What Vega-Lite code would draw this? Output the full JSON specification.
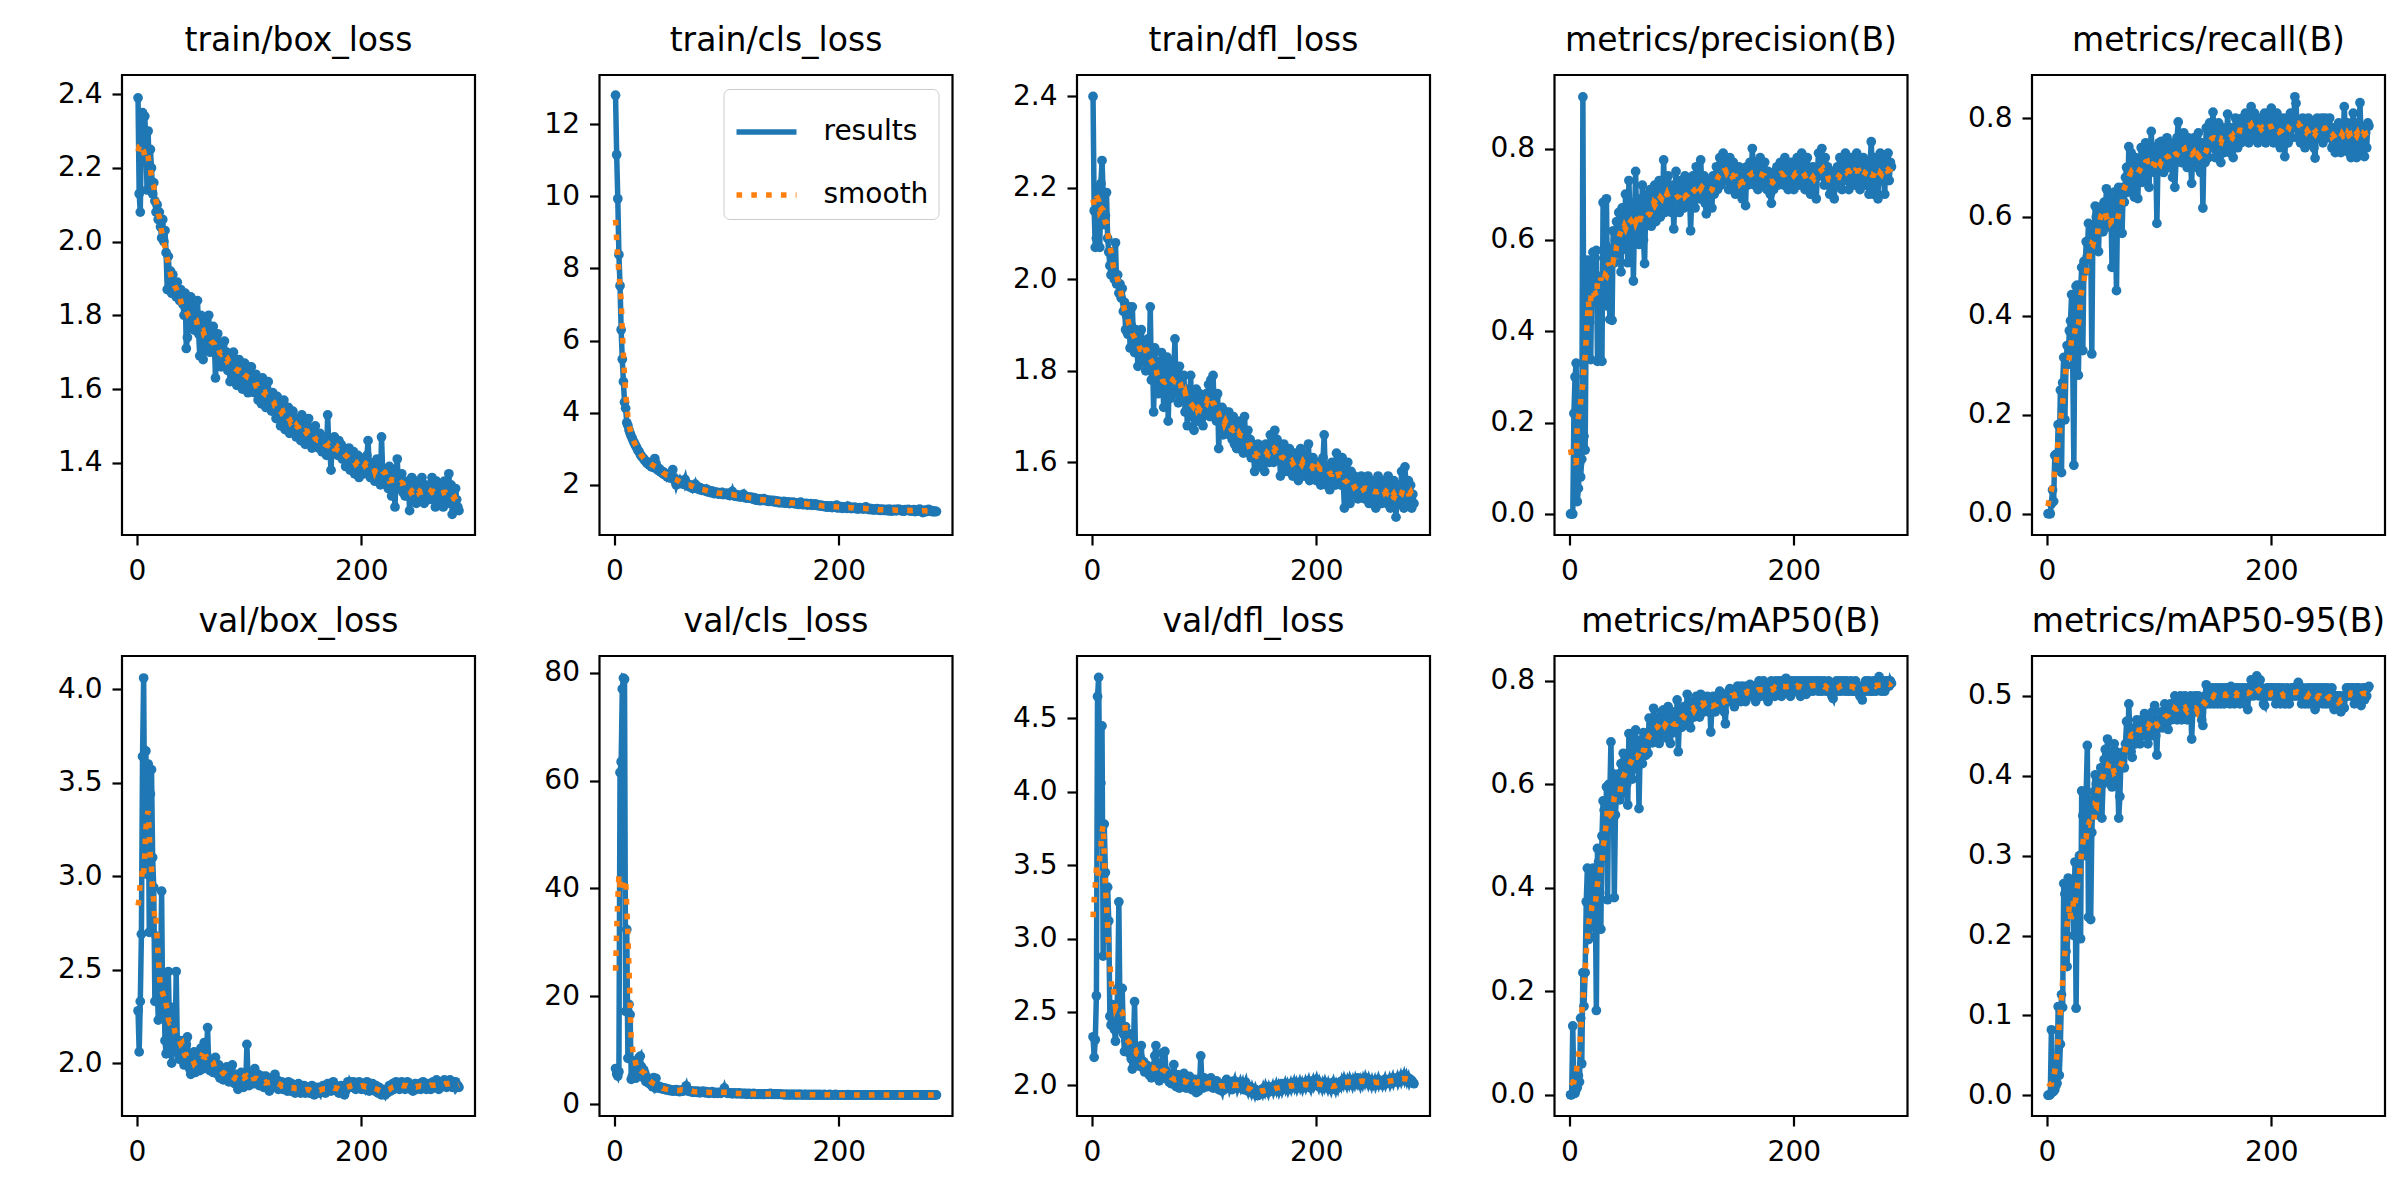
{
  "$schema": "https://vega.github.io/schema/vega-lite/v6.json",
  "background": "white",
  "padding": {"left": 50, "top": 23, "right": 0, "bottom": 0},
  "data": {
    "values": [
      {"ep":1,"tb":2.39,"tc":12.8,"td":2.40,"p":0,"r":0,"vb":2.28,"vc":6.6,"vd":2.33,"m50":0,"m95":0},
      {"ep":2,"tb":2.13,"tc":11.15,"td":2.15,"p":0,"r":0,"vb":2.06,"vc":5.6,"vd":2.19,"m50":0,"m95":0},
      {"ep":3,"tb":2.08,"tc":9.93,"td":2.07,"p":0,"r":0,"vb":2.33,"vc":5.2,"vd":2.31,"m50":0.133,"m95":0.001},
      {"ep":4,"tb":2.30,"tc":8.38,"td":2.09,"p":0.22,"r":0.02,"vb":2.69,"vc":6.0,"vd":2.61,"m50":0.005,"m95":0.082},
      {"ep":5,"tb":2.35,"tc":7.52,"td":2.20,"p":0.30,"r":0.048,"vb":3.64,"vc":61.5,"vd":4.65,"m50":0.003,"m95":0.004},
      {"ep":6,"tb":2.22,"tc":6.30,"td":2.14,"p":0.33,"r":0.025,"vb":4.06,"vc":63.5,"vd":4.78,"m50":0.010,"m95":0.005},
      {"ep":7,"tb":2.34,"tc":5.48,"td":2.07,"p":0.027,"r":0.118,"vb":3.10,"vc":77.0,"vd":3.97,"m50":0.014,"m95":0.007},
      {"ep":8,"tb":2.27,"tc":4.86,"td":2.21,"p":0.056,"r":0.12,"vb":3.67,"vc":79.0,"vd":4.06,"m50":0.037,"m95":0.012},
      {"ep":9,"tb":2.14,"tc":4.29,"td":2.26,"p":0.11,"r":0.095,"vb":3.01,"vc":78.8,"vd":4.45,"m50":0.025,"m95":0.015},
      {"ep":10,"tb":2.30,"tc":4.12,"td":2.19,"p":0.081,"r":0.18,"vb":3.60,"vc":17.2,"vd":2.88,"m50":0.148,"m95":0.111},
      {"ep":11,"tb":2.18,"tc":3.72,"td":2.12,"p":0.12,"r":0.122,"vb":2.70,"vc":32.4,"vd":3.78,"m50":0.060,"m95":0.025},
      {"ep":12,"tb":2.25,"tc":3.65,"td":2.14,"p":0.913,"r":0.25,"vb":3.44,"vc":8.5,"vd":3.45,"m50":0.236,"m95":0.064},
      {"ep":13,"tb":2.20,"tc":3.52,"td":2.19,"p":0.17,"r":0.083,"vb":3.57,"vc":18.5,"vd":3.00,"m50":0.171,"m95":0.126},
      {"ep":14,"tb":2.13,"tc":3.43,"td":2.09,"p":0.14,"r":0.265,"vb":3.10,"vc":16.6,"vd":3.35,"m50":0.236,"m95":0.11},
      {"ep":15,"tb":2.16,"tc":3.35,"td":2.06,"p":0.45,"r":0.316,"vb":2.94,"vc":4.6,"vd":3.12,"m50":0.373,"m95":0.265},
      {"ep":16,"tb":2.11,"tc":3.28,"td":2.03,"p":0.556,"r":0.19,"vb":2.33,"vc":5.2,"vd":2.47,"m50":0.438,"m95":0.252},
      {"ep":17,"tb":2.08,"tc":3.20,"td":2.01,"p":0.50,"r":0.30,"vb":2.68,"vc":8.0,"vd":2.41,"m50":0.30,"m95":0.18},
      {"ep":18,"tb":2.10,"tc":3.14,"td":2.06,"p":0.42,"r":0.34,"vb":2.45,"vc":7.2,"vd":2.55,"m50":0.305,"m95":0.161},
      {"ep":19,"tb":2.06,"tc":3.08,"td":2.02,"p":0.338,"r":0.32,"vb":2.23,"vc":4.8,"vd":2.45,"m50":0.335,"m95":0.272},
      {"ep":20,"tb":2.08,"tc":3.02,"td":2.00,"p":0.54,"r":0.37,"vb":2.50,"vc":6.0,"vd":2.38,"m50":0.42,"m95":0.24},
      {"ep":21,"tb":2.04,"tc":2.95,"td":2.08,"p":0.573,"r":0.39,"vb":2.38,"vc":5.5,"vd":2.30,"m50":0.438,"m95":0.26},
      {"ep":22,"tb":2.01,"tc":2.92,"td":1.99,"p":0.52,"r":0.443,"vb":2.92,"vc":8.6,"vd":2.50,"m50":0.37,"m95":0.228},
      {"ep":23,"tb":2.06,"tc":2.85,"td":2.01,"p":0.56,"r":0.30,"vb":2.25,"vc":8.9,"vd":2.66,"m50":0.40,"m95":0.27},
      {"ep":24,"tb":2.00,"tc":2.80,"td":1.97,"p":0.577,"r":0.098,"vb":2.45,"vc":7.0,"vd":3.25,"m50":0.163,"m95":0.20},
      {"ep":25,"tb":2.03,"tc":2.76,"td":1.99,"p":0.334,"r":0.42,"vb":2.12,"vc":5.0,"vd":2.48,"m50":0.476,"m95":0.292},
      {"ep":26,"tb":1.97,"tc":2.73,"td":1.96,"p":0.48,"r":0.46,"vb":2.05,"vc":6.4,"vd":2.38,"m50":0.45,"m95":0.109},
      {"ep":27,"tb":1.87,"tc":2.67,"td":1.98,"p":0.45,"r":0.462,"vb":2.28,"vc":5.8,"vd":2.66,"m50":0.39,"m95":0.25},
      {"ep":28,"tb":1.96,"tc":2.66,"td":1.93,"p":0.52,"r":0.28,"vb":2.49,"vc":4.2,"vd":2.35,"m50":0.32,"m95":0.28},
      {"ep":29,"tb":1.90,"tc":2.60,"td":1.95,"p":0.334,"r":0.40,"vb":2.20,"vc":5.0,"vd":2.23,"m50":0.50,"m95":0.30},
      {"ep":30,"tb":1.92,"tc":2.62,"td":1.89,"p":0.682,"r":0.45,"vb":2.30,"vc":4.0,"vd":2.40,"m50":0.568,"m95":0.196},
      {"ep":31,"tb":1.86,"tc":2.55,"td":1.92,"p":0.47,"r":0.498,"vb":2.00,"vc":3.8,"vd":2.30,"m50":0.55,"m95":0.381},
      {"ep":32,"tb":1.91,"tc":2.58,"td":1.88,"p":0.59,"r":0.33,"vb":2.15,"vc":4.5,"vd":2.28,"m50":0.46,"m95":0.35},
      {"ep":33,"tb":1.88,"tc":2.50,"td":1.94,"p":0.69,"r":0.51,"vb":2.28,"vc":3.5,"vd":2.22,"m50":0.595,"m95":0.371},
      {"ep":34,"tb":1.87,"tc":2.52,"td":1.85,"p":0.455,"r":0.49,"vb":2.08,"vc":3.2,"vd":2.35,"m50":0.377,"m95":0.30},
      {"ep":35,"tb":1.85,"tc":2.48,"td":1.90,"p":0.56,"r":0.55,"vb":2.49,"vc":4.9,"vd":2.18,"m50":0.60,"m95":0.38},
      {"ep":36,"tb":1.89,"tc":2.73,"td":1.94,"p":0.426,"r":0.52,"vb":2.10,"vc":3.4,"vd":2.11,"m50":0.58,"m95":0.438},
      {"ep":37,"tb":1.86,"tc":2.60,"td":1.87,"p":0.58,"r":0.587,"vb":2.05,"vc":4.8,"vd":2.25,"m50":0.682,"m95":0.223},
      {"ep":38,"tb":1.84,"tc":2.44,"td":1.84,"p":0.424,"r":0.53,"vb":2.02,"vc":3.0,"vd":2.57,"m50":0.56,"m95":0.36},
      {"ep":39,"tb":1.87,"tc":2.40,"td":1.89,"p":0.62,"r":0.56,"vb":2.12,"vc":3.2,"vd":2.15,"m50":0.62,"m95":0.22},
      {"ep":40,"tb":1.85,"tc":2.45,"td":1.86,"p":0.55,"r":0.323,"vb":2.04,"vc":3.3,"vd":2.20,"m50":0.381,"m95":0.329},
      {"ep":41,"tb":1.83,"tc":2.36,"td":1.81,"p":0.60,"r":0.58,"vb":2.08,"vc":2.9,"vd":2.17,"m50":0.541,"m95":0.37},
      {"ep":42,"tb":1.80,"tc":2.38,"td":1.87,"p":0.64,"r":0.55,"vb":1.99,"vc":3.1,"vd":2.13,"m50":0.58,"m95":0.38},
      {"ep":43,"tb":1.86,"tc":2.31,"td":1.83,"p":0.57,"r":0.622,"vb":2.05,"vc":2.8,"vd":2.19,"m50":0.60,"m95":0.401},
      {"ep":44,"tb":1.71,"tc":2.35,"td":1.89,"p":0.66,"r":0.60,"vb":2.10,"vc":3.0,"vd":2.27,"m50":0.62,"m95":0.39},
      {"ep":45,"tb":1.74,"tc":2.28,"td":1.85,"p":0.61,"r":0.58,"vb":2.14,"vc":2.7,"vd":2.12,"m50":0.57,"m95":0.351},
      {"ep":46,"tb":1.82,"tc":2.30,"td":1.82,"p":0.53,"r":0.53,"vb":2.01,"vc":2.9,"vd":2.16,"m50":0.64,"m95":0.40},
      {"ep":47,"tb":1.79,"tc":2.22,"td":1.86,"p":0.67,"r":0.62,"vb":1.97,"vc":2.6,"vd":2.09,"m50":0.61,"m95":0.38},
      {"ep":48,"tb":1.85,"tc":2.27,"td":1.80,"p":0.62,"r":0.59,"vb":1.94,"vc":2.8,"vd":2.14,"m50":0.66,"m95":0.41},
      {"ep":49,"tb":1.78,"tc":2.20,"td":1.84,"p":0.58,"r":0.606,"vb":2.04,"vc":2.5,"vd":2.10,"m50":0.583,"m95":0.347},
      {"ep":50,"tb":1.83,"tc":2.24,"td":1.87,"p":0.70,"r":0.57,"vb":1.99,"vc":2.7,"vd":2.13,"m50":0.63,"m95":0.39},
      {"ep":51,"tb":1.76,"tc":2.18,"td":1.81,"p":0.63,"r":0.63,"vb":2.06,"vc":2.6,"vd":2.07,"m50":0.60,"m95":0.42},
      {"ep":52,"tb":1.81,"tc":2.42,"td":1.94,"p":0.55,"r":0.60,"vb":1.95,"vc":2.4,"vd":2.11,"m50":0.56,"m95":0.433},
      {"ep":53,"tb":1.78,"tc":2.21,"td":1.78,"p":0.73,"r":0.657,"vb":2.02,"vc":2.6,"vd":2.05,"m50":0.698,"m95":0.40},
      {"ep":54,"tb":1.84,"tc":2.12,"td":1.83,"p":0.65,"r":0.61,"vb":1.98,"vc":2.5,"vd":2.09,"m50":0.64,"m95":0.446},
      {"ep":55,"tb":1.75,"tc":2.00,"td":1.71,"p":0.60,"r":0.58,"vb":2.05,"vc":2.7,"vd":2.13,"m50":0.67,"m95":0.41},
      {"ep":56,"tb":1.69,"tc":2.10,"td":1.85,"p":0.68,"r":0.64,"vb":1.96,"vc":2.4,"vd":2.20,"m50":0.61,"m95":0.43},
      {"ep":57,"tb":1.80,"tc":2.07,"td":1.79,"p":0.51,"r":0.62,"vb":2.08,"vc":2.6,"vd":2.27,"m50":0.69,"m95":0.39},
      {"ep":58,"tb":1.77,"tc":2.13,"td":1.82,"p":0.64,"r":0.498,"vb":2.01,"vc":2.3,"vd":2.06,"m50":0.65,"m95":0.386},
      {"ep":59,"tb":1.68,"tc":2.04,"td":1.75,"p":0.75,"r":0.60,"vb":1.97,"vc":2.5,"vd":2.12,"m50":0.705,"m95":0.42},
      {"ep":60,"tb":1.74,"tc":2.08,"td":1.80,"p":0.62,"r":0.65,"vb":2.11,"vc":2.6,"vd":2.03,"m50":0.63,"m95":0.44},
      {"ep":61,"tb":1.78,"tc":2.02,"td":1.77,"p":0.66,"r":0.58,"vb":2.00,"vc":2.4,"vd":2.15,"m50":0.68,"m95":0.41},
      {"ep":62,"tb":1.72,"tc":2.06,"td":1.84,"p":0.59,"r":0.451,"vb":2.05,"vc":2.7,"vd":2.08,"m50":0.553,"m95":0.43},
      {"ep":63,"tb":1.76,"tc":2.15,"td":1.78,"p":0.69,"r":0.63,"vb":2.19,"vc":2.9,"vd":2.22,"m50":0.66,"m95":0.40},
      {"ep":64,"tb":1.80,"tc":1.99,"td":1.72,"p":0.63,"r":0.66,"vb":1.98,"vc":3.4,"vd":2.05,"m50":0.686,"m95":0.347},
      {"ep":65,"tb":1.70,"tc":2.03,"td":1.81,"p":0.72,"r":0.61,"vb":1.96,"vc":2.6,"vd":2.23,"m50":0.64,"m95":0.374},
      {"ep":66,"tb":1.74,"tc":1.96,"td":1.76,"p":0.60,"r":0.64,"vb":2.02,"vc":2.4,"vd":2.10,"m50":0.70,"m95":0.42},
      {"ep":67,"tb":1.71,"tc":2.00,"td":1.83,"p":0.548,"r":0.567,"vb":1.99,"vc":2.5,"vd":2.04,"m50":0.67,"m95":0.426},
      {"ep":68,"tb":1.77,"tc":1.93,"td":1.69,"p":0.67,"r":0.66,"vb":1.95,"vc":2.3,"vd":2.08,"m50":0.656,"m95":0.43},
      {"ep":69,"tb":1.73,"tc":1.97,"td":1.79,"p":0.64,"r":0.63,"vb":2.01,"vc":2.4,"vd":2.02,"m50":0.69,"m95":0.41},
      {"ep":70,"tb":1.63,"tc":1.90,"td":1.74,"p":0.70,"r":0.68,"vb":2.03,"vc":2.2,"vd":2.06,"m50":0.66,"m95":0.44},
      {"ep":71,"tb":1.69,"tc":1.95,"td":1.82,"p":0.65,"r":0.70,"vb":1.97,"vc":2.4,"vd":2.01,"m50":0.728,"m95":0.468},
      {"ep":72,"tb":1.75,"tc":2.02,"td":1.77,"p":0.71,"r":0.65,"vb":1.94,"vc":2.3,"vd":2.04,"m50":0.69,"m95":0.44},
      {"ep":73,"tb":1.70,"tc":1.92,"td":1.80,"p":0.63,"r":0.742,"vb":1.99,"vc":2.2,"vd":2.14,"m50":0.71,"m95":0.49},
      {"ep":74,"tb":1.72,"tc":1.89,"td":1.87,"p":0.68,"r":0.69,"vb":1.92,"vc":2.4,"vd":2.05,"m50":0.68,"m95":0.45},
      {"ep":75,"tb":1.66,"tc":1.94,"td":1.75,"p":0.66,"r":0.73,"vb":1.97,"vc":2.3,"vd":1.99,"m50":0.747,"m95":0.43},
      {"ep":76,"tb":1.71,"tc":1.87,"td":1.79,"p":0.72,"r":0.66,"vb":1.95,"vc":2.1,"vd":2.03,"m50":0.70,"m95":0.423},
      {"ep":77,"tb":1.68,"tc":1.91,"td":1.73,"p":0.64,"r":0.70,"vb":1.91,"vc":2.3,"vd":2.07,"m50":0.72,"m95":0.45},
      {"ep":78,"tb":1.73,"tc":1.85,"td":1.81,"p":0.69,"r":0.64,"vb":1.96,"vc":2.2,"vd":1.98,"m50":0.69,"m95":0.46},
      {"ep":79,"tb":1.67,"tc":1.89,"td":1.76,"p":0.67,"r":0.72,"vb":1.93,"vc":2.4,"vd":2.02,"m50":0.73,"m95":0.44},
      {"ep":80,"tb":1.70,"tc":1.86,"td":1.78,"p":0.73,"r":0.68,"vb":1.98,"vc":2.2,"vd":2.05,"m50":0.679,"m95":0.47},
      {"ep":81,"tb":1.65,"tc":1.83,"td":1.74,"p":0.65,"r":0.637,"vb":1.94,"vc":2.1,"vd":2.00,"m50":0.71,"m95":0.45},
      {"ep":82,"tb":1.69,"tc":1.88,"td":1.79,"p":0.70,"r":0.71,"vb":1.90,"vc":2.3,"vd":2.08,"m50":0.74,"m95":0.46},
      {"ep":83,"tb":1.62,"tc":1.81,"td":1.71,"p":0.68,"r":0.69,"vb":1.95,"vc":2.2,"vd":2.03,"m50":0.70,"m95":0.44},
      {"ep":84,"tb":1.68,"tc":1.85,"td":1.76,"p":0.775,"r":0.74,"vb":1.92,"vc":2.0,"vd":1.98,"m50":0.744,"m95":0.47},
      {"ep":85,"tb":1.66,"tc":1.79,"td":1.68,"p":0.66,"r":0.67,"vb":1.99,"vc":2.2,"vd":2.04,"m50":0.72,"m95":0.45},
      {"ep":86,"tb":1.70,"tc":1.83,"td":1.75,"p":0.71,"r":0.72,"vb":1.93,"vc":2.1,"vd":2.01,"m50":0.69,"m95":0.46},
      {"ep":87,"tb":1.64,"tc":1.78,"td":1.72,"p":0.69,"r":0.70,"vb":1.89,"vc":2.3,"vd":2.06,"m50":0.73,"m95":0.478},
      {"ep":88,"tb":1.67,"tc":1.82,"td":1.79,"p":0.74,"r":0.75,"vb":1.94,"vc":2.1,"vd":2.00,"m50":0.75,"m95":0.45},
      {"ep":89,"tb":1.61,"tc":1.76,"td":1.70,"p":0.67,"r":0.68,"vb":1.91,"vc":2.0,"vd":1.97,"m50":0.71,"m95":0.47},
      {"ep":90,"tb":1.65,"tc":1.80,"td":1.74,"p":0.70,"r":0.71,"vb":1.86,"vc":2.2,"vd":2.02,"m50":0.679,"m95":0.44},
      {"ep":91,"tb":1.68,"tc":1.77,"td":1.67,"p":0.66,"r":0.66,"vb":1.93,"vc":2.1,"vd":1.99,"m50":0.72,"m95":0.46},
      {"ep":92,"tb":1.63,"tc":1.79,"td":1.73,"p":0.72,"r":0.73,"vb":1.88,"vc":2.0,"vd":2.04,"m50":0.74,"m95":0.47},
      {"ep":93,"tb":1.66,"tc":1.74,"td":1.76,"p":0.624,"r":0.773,"vb":1.95,"vc":2.2,"vd":1.95,"m50":0.70,"m95":0.45},
      {"ep":94,"tb":1.60,"tc":1.78,"td":1.69,"p":0.69,"r":0.70,"vb":1.91,"vc":2.1,"vd":2.00,"m50":0.73,"m95":0.48},
      {"ep":95,"tb":1.64,"tc":1.75,"td":1.72,"p":0.75,"r":0.74,"vb":1.87,"vc":2.0,"vd":1.96,"m50":0.71,"m95":0.46},
      {"ep":96,"tb":1.67,"tc":1.79,"td":1.75,"p":0.68,"r":0.69,"vb":1.93,"vc":2.2,"vd":2.02,"m50":0.763,"m95":0.488},
      {"ep":97,"tb":1.62,"tc":1.73,"td":1.70,"p":0.71,"r":0.72,"vb":1.89,"vc":2.4,"vd":2.20,"m50":0.663,"m95":0.45},
      {"ep":98,"tb":1.65,"tc":1.76,"td":1.73,"p":0.66,"r":0.587,"vb":2.10,"vc":3.0,"vd":2.03,"m50":0.72,"m95":0.426},
      {"ep":99,"tb":1.59,"tc":1.74,"td":1.68,"p":0.73,"r":0.71,"vb":1.92,"vc":2.3,"vd":1.98,"m50":0.74,"m95":0.47},
      {"ep":100,"tb":1.66,"tc":1.77,"td":1.74,"p":0.69,"r":0.75,"vb":1.88,"vc":2.1,"vd":2.05,"m50":0.71,"m95":0.46},
      {"ep":101,"tb":1.62,"tc":1.72,"td":1.71,"p":0.72,"r":0.70,"vb":1.95,"vc":2.0,"vd":2.01,"m50":0.73,"m95":0.47},
      {"ep":102,"tb":1.66,"tc":1.76,"td":1.75,"p":0.67,"r":0.753,"vb":1.91,"vc":2.1,"vd":2.04,"m50":0.75,"m95":0.48},
      {"ep":103,"tb":1.60,"tc":1.70,"td":1.72,"p":0.74,"r":0.72,"vb":1.94,"vc":2.0,"vd":1.99,"m50":0.72,"m95":0.46},
      {"ep":104,"tb":1.63,"tc":1.74,"td":1.77,"p":0.70,"r":0.69,"vb":1.89,"vc":2.1,"vd":2.03,"m50":0.74,"m95":0.47},
      {"ep":105,"tb":1.59,"tc":1.82,"td":1.70,"p":0.68,"r":0.74,"vb":1.97,"vc":1.9,"vd":2.00,"m50":0.774,"m95":0.49},
      {"ep":106,"tb":1.64,"tc":1.71,"td":1.78,"p":0.73,"r":0.71,"vb":1.92,"vc":2.0,"vd":2.05,"m50":0.73,"m95":0.47},
      {"ep":107,"tb":1.61,"tc":1.69,"td":1.73,"p":0.71,"r":0.76,"vb":1.90,"vc":2.1,"vd":2.01,"m50":0.75,"m95":0.48},
      {"ep":108,"tb":1.57,"tc":1.73,"td":1.79,"p":0.62,"r":0.73,"vb":1.94,"vc":2.0,"vd":1.98,"m50":0.709,"m95":0.458},
      {"ep":109,"tb":1.62,"tc":1.68,"td":1.71,"p":0.69,"r":0.70,"vb":1.88,"vc":1.9,"vd":2.02,"m50":0.74,"m95":0.48},
      {"ep":110,"tb":1.60,"tc":1.72,"td":1.74,"p":0.74,"r":0.75,"vb":1.92,"vc":2.0,"vd":1.99,"m50":0.76,"m95":0.49},
      {"ep":111,"tb":1.56,"tc":1.67,"td":1.69,"p":0.72,"r":0.72,"vb":1.89,"vc":2.1,"vd":2.03,"m50":0.73,"m95":0.47},
      {"ep":112,"tb":1.63,"tc":1.70,"td":1.75,"p":0.67,"r":0.68,"vb":1.93,"vc":1.9,"vd":2.00,"m50":0.75,"m95":0.48},
      {"ep":113,"tb":1.58,"tc":1.66,"td":1.63,"p":0.76,"r":0.74,"vb":1.87,"vc":2.0,"vd":1.97,"m50":0.77,"m95":0.49},
      {"ep":114,"tb":1.61,"tc":1.69,"td":1.71,"p":0.71,"r":0.66,"vb":1.91,"vc":1.9,"vd":2.01,"m50":0.74,"m95":0.50},
      {"ep":115,"tb":1.55,"tc":1.74,"td":1.68,"p":0.73,"r":0.71,"vb":1.93,"vc":2.0,"vd":1.98,"m50":0.76,"m95":0.48},
      {"ep":116,"tb":1.59,"tc":1.65,"td":1.72,"p":0.69,"r":0.76,"vb":1.88,"vc":1.9,"vd":1.96,"m50":0.73,"m95":0.47},
      {"ep":117,"tb":1.62,"tc":1.68,"td":1.66,"p":0.775,"r":0.792,"vb":1.90,"vc":2.0,"vd":2.00,"m50":0.774,"m95":0.49},
      {"ep":118,"tb":1.56,"tc":1.63,"td":1.70,"p":0.72,"r":0.73,"vb":1.85,"vc":1.8,"vd":1.97,"m50":0.75,"m95":0.48},
      {"ep":119,"tb":1.58,"tc":1.67,"td":1.67,"p":0.70,"r":0.75,"vb":1.89,"vc":1.9,"vd":2.01,"m50":0.77,"m95":0.50},
      {"ep":120,"tb":1.54,"tc":1.64,"td":1.71,"p":0.74,"r":0.71,"vb":1.92,"vc":2.0,"vd":2.04,"m50":0.74,"m95":0.47},
      {"ep":121,"tb":1.59,"tc":1.66,"td":1.68,"p":0.68,"r":0.74,"vb":1.87,"vc":1.9,"vd":1.99,"m50":0.76,"m95":0.49},
      {"ep":122,"tb":1.55,"tc":1.62,"td":1.71,"p":0.657,"r":0.77,"vb":1.90,"vc":1.8,"vd":2.02,"m50":0.75,"m95":0.48},
      {"ep":123,"tb":1.57,"tc":1.65,"td":1.66,"p":0.71,"r":0.72,"vb":1.94,"vc":1.9,"vd":1.98,"m50":0.77,"m95":0.50},
      {"ep":124,"tb":1.52,"tc":1.60,"td":1.69,"p":0.73,"r":0.75,"vb":1.88,"vc":2.0,"vd":2.00,"m50":0.74,"m95":0.48},
      {"ep":125,"tb":1.58,"tc":1.64,"td":1.65,"p":0.69,"r":0.70,"vb":1.91,"vc":1.9,"vd":1.97,"m50":0.76,"m95":0.47},
      {"ep":126,"tb":1.54,"tc":1.58,"td":1.70,"p":0.72,"r":0.76,"vb":1.86,"vc":1.8,"vd":2.01,"m50":0.701,"m95":0.49},
      {"ep":127,"tb":1.56,"tc":1.62,"td":1.64,"p":0.67,"r":0.73,"vb":1.89,"vc":1.9,"vd":2.03,"m50":0.75,"m95":0.48},
      {"ep":128,"tb":1.50,"tc":1.57,"td":1.67,"p":0.74,"r":0.71,"vb":1.87,"vc":1.8,"vd":1.99,"m50":0.77,"m95":0.50},
      {"ep":129,"tb":1.55,"tc":1.61,"td":1.63,"p":0.70,"r":0.668,"vb":1.90,"vc":1.9,"vd":2.02,"m50":0.76,"m95":0.446},
      {"ep":130,"tb":1.53,"tc":1.56,"td":1.68,"p":0.72,"r":0.74,"vb":1.86,"vc":1.8,"vd":1.98,"m50":0.74,"m95":0.48},
      {"ep":131,"tb":1.57,"tc":1.60,"td":1.66,"p":0.76,"r":0.76,"vb":1.89,"vc":1.9,"vd":2.00,"m50":0.77,"m95":0.49},
      {"ep":132,"tb":1.49,"tc":1.58,"td":1.69,"p":0.71,"r":0.72,"vb":1.86,"vc":1.8,"vd":2.02,"m50":0.75,"m95":0.50},
      {"ep":133,"tb":1.54,"tc":1.62,"td":1.64,"p":0.74,"r":0.75,"vb":1.88,"vc":1.9,"vd":1.99,"m50":0.76,"m95":0.48},
      {"ep":134,"tb":1.51,"tc":1.57,"td":1.67,"p":0.78,"r":0.70,"vb":1.85,"vc":1.8,"vd":2.01,"m50":0.78,"m95":0.49},
      {"ep":135,"tb":1.55,"tc":1.59,"td":1.62,"p":0.72,"r":0.77,"vb":1.90,"vc":1.9,"vd":1.97,"m50":0.75,"m95":0.50},
      {"ep":136,"tb":1.48,"tc":1.55,"td":1.70,"p":0.75,"r":0.73,"vb":1.87,"vc":1.9,"vd":2.00,"m50":0.77,"m95":0.48},
      {"ep":137,"tb":1.52,"tc":1.58,"td":1.65,"p":0.79,"r":0.69,"vb":1.85,"vc":1.8,"vd":2.02,"m50":0.76,"m95":0.49},
      {"ep":138,"tb":1.50,"tc":1.54,"td":1.63,"p":0.73,"r":0.75,"vb":1.89,"vc":1.9,"vd":1.98,"m50":0.74,"m95":0.47},
      {"ep":139,"tb":1.54,"tc":1.57,"td":1.67,"p":0.77,"r":0.618,"vb":1.86,"vc":2.0,"vd":1.96,"m50":0.717,"m95":0.463},
      {"ep":140,"tb":1.49,"tc":1.55,"td":1.62,"p":0.74,"r":0.74,"vb":1.88,"vc":1.8,"vd":1.99,"m50":0.77,"m95":0.49},
      {"ep":141,"tb":1.51,"tc":1.57,"td":1.65,"p":0.76,"r":0.71,"vb":1.84,"vc":1.9,"vd":1.97,"m50":0.76,"m95":0.50},
      {"ep":142,"tb":1.47,"tc":1.53,"td":1.61,"p":0.71,"r":0.78,"vb":1.87,"vc":1.8,"vd":1.95,"m50":0.78,"m95":0.514},
      {"ep":143,"tb":1.52,"tc":1.56,"td":1.64,"p":0.78,"r":0.75,"vb":1.85,"vc":1.8,"vd":1.98,"m50":0.785,"m95":0.49},
      {"ep":144,"tb":1.48,"tc":1.52,"td":1.62,"p":0.75,"r":0.72,"vb":1.89,"vc":1.9,"vd":1.96,"m50":0.76,"m95":0.50},
      {"ep":145,"tb":1.50,"tc":1.55,"td":1.58,"p":0.72,"r":0.79,"vb":1.86,"vc":1.8,"vd":1.94,"m50":0.78,"m95":0.51},
      {"ep":146,"tb":1.46,"tc":1.51,"td":1.63,"p":0.77,"r":0.74,"vb":1.84,"vc":1.8,"vd":1.97,"m50":0.77,"m95":0.49},
      {"ep":147,"tb":1.53,"tc":1.54,"td":1.60,"p":0.73,"r":0.77,"vb":1.87,"vc":1.9,"vd":1.95,"m50":0.75,"m95":0.50},
      {"ep":148,"tb":1.47,"tc":1.50,"td":1.64,"p":0.70,"r":0.812,"vb":1.85,"vc":1.8,"vd":1.93,"m50":0.78,"m95":0.51},
      {"ep":149,"tb":1.49,"tc":1.53,"td":1.61,"p":0.75,"r":0.75,"vb":1.88,"vc":1.8,"vd":1.94,"m50":0.76,"m95":0.49},
      {"ep":150,"tb":1.45,"tc":1.51,"td":1.59,"p":0.72,"r":0.72,"vb":1.84,"vc":1.8,"vd":1.96,"m50":0.79,"m95":0.50},
      {"ep":151,"tb":1.50,"tc":1.54,"td":1.63,"p":0.76,"r":0.77,"vb":1.86,"vc":1.8,"vd":1.97,"m50":0.77,"m95":0.51},
      {"ep":152,"tb":1.48,"tc":1.49,"td":1.60,"p":0.74,"r":0.74,"vb":1.85,"vc":1.7,"vd":1.95,"m50":0.78,"m95":0.49},
      {"ep":153,"tb":1.52,"tc":1.52,"td":1.62,"p":0.71,"r":0.79,"vb":1.87,"vc":1.8,"vd":1.98,"m50":0.76,"m95":0.50},
      {"ep":154,"tb":1.46,"tc":1.50,"td":1.58,"p":0.69,"r":0.76,"vb":1.84,"vc":1.8,"vd":1.96,"m50":0.79,"m95":0.51},
      {"ep":155,"tb":1.49,"tc":1.53,"td":1.64,"p":0.75,"r":0.71,"vb":1.86,"vc":1.7,"vd":1.99,"m50":0.77,"m95":0.49},
      {"ep":156,"tb":1.44,"tc":1.48,"td":1.61,"p":0.73,"r":0.75,"vb":1.88,"vc":1.8,"vd":1.97,"m50":0.78,"m95":0.50},
      {"ep":157,"tb":1.48,"tc":1.51,"td":1.63,"p":0.675,"r":0.78,"vb":1.85,"vc":1.7,"vd":1.95,"m50":0.76,"m95":0.51},
      {"ep":158,"tb":1.46,"tc":1.49,"td":1.60,"p":0.76,"r":0.73,"vb":1.83,"vc":1.8,"vd":1.98,"m50":0.79,"m95":0.49},
      {"ep":159,"tb":1.50,"tc":1.52,"td":1.66,"p":0.72,"r":0.76,"vb":1.86,"vc":1.8,"vd":1.96,"m50":0.77,"m95":0.50},
      {"ep":160,"tb":1.45,"tc":1.48,"td":1.62,"p":0.74,"r":0.74,"vb":1.84,"vc":1.7,"vd":1.97,"m50":0.78,"m95":0.51},
      {"ep":161,"tb":1.47,"tc":1.51,"td":1.64,"p":0.77,"r":0.808,"vb":1.87,"vc":1.8,"vd":1.99,"m50":0.793,"m95":0.50},
      {"ep":162,"tb":1.44,"tc":1.47,"td":1.60,"p":0.73,"r":0.76,"vb":1.85,"vc":1.7,"vd":1.96,"m50":0.78,"m95":0.51},
      {"ep":163,"tb":1.48,"tc":1.50,"td":1.67,"p":0.80,"r":0.73,"vb":1.84,"vc":1.8,"vd":1.98,"m50":0.77,"m95":0.49},
      {"ep":164,"tb":1.45,"tc":1.46,"td":1.62,"p":0.75,"r":0.78,"vb":1.87,"vc":1.7,"vd":2.00,"m50":0.79,"m95":0.512},
      {"ep":165,"tb":1.43,"tc":1.49,"td":1.65,"p":0.72,"r":0.75,"vb":1.85,"vc":1.8,"vd":1.97,"m50":0.78,"m95":0.50},
      {"ep":166,"tb":1.47,"tc":1.52,"td":1.61,"p":0.77,"r":0.72,"vb":1.88,"vc":1.8,"vd":1.99,"m50":0.76,"m95":0.51},
      {"ep":167,"tb":1.44,"tc":1.47,"td":1.63,"p":0.74,"r":0.77,"vb":1.86,"vc":1.7,"vd":1.96,"m50":0.79,"m95":0.49},
      {"ep":168,"tb":1.46,"tc":1.45,"td":1.57,"p":0.71,"r":0.80,"vb":1.84,"vc":1.7,"vd":1.98,"m50":0.78,"m95":0.50},
      {"ep":169,"tb":1.42,"tc":1.48,"td":1.62,"p":0.76,"r":0.76,"vb":1.87,"vc":1.8,"vd":2.01,"m50":0.80,"m95":0.51},
      {"ep":170,"tb":1.53,"tc":1.46,"td":1.60,"p":0.78,"r":0.74,"vb":1.89,"vc":1.7,"vd":1.97,"m50":0.77,"m95":0.50},
      {"ep":171,"tb":1.45,"tc":1.49,"td":1.64,"p":0.73,"r":0.79,"vb":1.86,"vc":1.8,"vd":1.99,"m50":0.79,"m95":0.51},
      {"ep":172,"tb":1.43,"tc":1.44,"td":1.59,"p":0.75,"r":0.77,"vb":1.88,"vc":1.7,"vd":2.01,"m50":0.78,"m95":0.49},
      {"ep":173,"tb":1.38,"tc":1.47,"td":1.62,"p":0.72,"r":0.75,"vb":1.85,"vc":1.7,"vd":1.98,"m50":0.80,"m95":0.50},
      {"ep":174,"tb":1.46,"tc":1.45,"td":1.58,"p":0.77,"r":0.80,"vb":1.87,"vc":1.8,"vd":2.00,"m50":0.77,"m95":0.51},
      {"ep":175,"tb":1.44,"tc":1.48,"td":1.61,"p":0.74,"r":0.78,"vb":1.90,"vc":1.7,"vd":1.97,"m50":0.79,"m95":0.50},
      {"ep":176,"tb":1.47,"tc":1.43,"td":1.63,"p":0.71,"r":0.76,"vb":1.86,"vc":1.7,"vd":1.99,"m50":0.78,"m95":0.49},
      {"ep":177,"tb":1.43,"tc":1.46,"td":1.59,"p":0.75,"r":0.81,"vb":1.88,"vc":1.8,"vd":2.01,"m50":0.76,"m95":0.51},
      {"ep":178,"tb":1.45,"tc":1.44,"td":1.62,"p":0.73,"r":0.77,"vb":1.85,"vc":1.7,"vd":1.98,"m50":0.79,"m95":0.50},
      {"ep":179,"tb":1.42,"tc":1.47,"td":1.57,"p":0.70,"r":0.79,"vb":1.87,"vc":1.7,"vd":2.00,"m50":0.77,"m95":0.483},
      {"ep":180,"tb":1.46,"tc":1.43,"td":1.60,"p":0.68,"r":0.75,"vb":1.84,"vc":1.8,"vd":2.02,"m50":0.80,"m95":0.51},
      {"ep":181,"tb":1.43,"tc":1.45,"td":1.62,"p":0.74,"r":0.80,"vb":1.86,"vc":1.7,"vd":1.99,"m50":0.78,"m95":0.50},
      {"ep":182,"tb":1.45,"tc":1.42,"td":1.58,"p":0.71,"r":0.823,"vb":1.88,"vc":1.7,"vd":2.01,"m50":0.79,"m95":0.52},
      {"ep":183,"tb":1.41,"tc":1.44,"td":1.61,"p":0.75,"r":0.78,"vb":1.84,"vc":1.8,"vd":1.98,"m50":0.77,"m95":0.51},
      {"ep":184,"tb":1.44,"tc":1.41,"td":1.56,"p":0.73,"r":0.76,"vb":1.86,"vc":1.7,"vd":2.00,"m50":0.80,"m95":0.50},
      {"ep":185,"tb":1.42,"tc":1.43,"td":1.60,"p":0.76,"r":0.81,"vb":1.83,"vc":1.7,"vd":2.02,"m50":0.79,"m95":0.52},
      {"ep":186,"tb":1.39,"tc":1.40,"td":1.63,"p":0.72,"r":0.77,"vb":1.85,"vc":1.7,"vd":1.99,"m50":0.78,"m95":0.51},
      {"ep":187,"tb":1.43,"tc":1.42,"td":1.59,"p":0.74,"r":0.79,"vb":1.88,"vc":1.8,"vd":2.01,"m50":0.80,"m95":0.525},
      {"ep":188,"tb":1.41,"tc":1.39,"td":1.61,"p":0.77,"r":0.75,"vb":1.90,"vc":1.7,"vd":1.98,"m50":0.79,"m95":0.51},
      {"ep":189,"tb":1.44,"tc":1.42,"td":1.57,"p":0.73,"r":0.78,"vb":1.87,"vc":1.7,"vd":2.00,"m50":0.77,"m95":0.50},
      {"ep":190,"tb":1.38,"tc":1.38,"td":1.60,"p":0.75,"r":0.80,"vb":1.90,"vc":1.7,"vd":2.02,"m50":0.80,"m95":0.52},
      {"ep":191,"tb":1.42,"tc":1.41,"td":1.62,"p":0.72,"r":0.76,"vb":1.89,"vc":1.7,"vd":1.99,"m50":0.78,"m95":0.51},
      {"ep":192,"tb":1.40,"tc":1.39,"td":1.58,"p":0.78,"r":0.79,"vb":1.87,"vc":1.8,"vd":2.01,"m50":0.79,"m95":0.50},
      {"ep":193,"tb":1.43,"tc":1.42,"td":1.64,"p":0.74,"r":0.77,"vb":1.90,"vc":1.7,"vd":2.03,"m50":0.805,"m95":0.49},
      {"ep":194,"tb":1.37,"tc":1.37,"td":1.56,"p":0.76,"r":0.81,"vb":1.88,"vc":1.7,"vd":2.00,"m50":0.78,"m95":0.488},
      {"ep":195,"tb":1.41,"tc":1.40,"td":1.60,"p":0.71,"r":0.75,"vb":1.86,"vc":1.7,"vd":1.98,"m50":0.80,"m95":0.50},
      {"ep":196,"tb":1.39,"tc":1.38,"td":1.58,"p":0.75,"r":0.78,"vb":1.89,"vc":1.7,"vd":2.01,"m50":0.79,"m95":0.51},
      {"ep":197,"tb":1.42,"tc":1.41,"td":1.61,"p":0.73,"r":0.80,"vb":1.87,"vc":1.8,"vd":2.03,"m50":0.77,"m95":0.50},
      {"ep":198,"tb":1.36,"tc":1.44,"td":1.57,"p":0.77,"r":0.76,"vb":1.90,"vc":1.7,"vd":2.00,"m50":0.80,"m95":0.51},
      {"ep":199,"tb":1.40,"tc":1.36,"td":1.59,"p":0.74,"r":0.79,"vb":1.88,"vc":1.7,"vd":2.02,"m50":0.79,"m95":0.50},
      {"ep":200,"tb":1.38,"tc":1.39,"td":1.56,"p":0.71,"r":0.82,"vb":1.86,"vc":1.7,"vd":2.04,"m50":0.78,"m95":0.51},
      {"ep":201,"tb":1.41,"tc":1.37,"td":1.60,"p":0.76,"r":0.77,"vb":1.89,"vc":1.72,"vd":2.01,"m50":0.80,"m95":0.50},
      {"ep":202,"tb":1.37,"tc":1.40,"td":1.57,"p":0.73,"r":0.75,"vb":1.87,"vc":1.68,"vd":1.99,"m50":0.79,"m95":0.51},
      {"ep":203,"tb":1.40,"tc":1.35,"td":1.59,"p":0.78,"r":0.80,"vb":1.86,"vc":1.74,"vd":2.02,"m50":0.78,"m95":0.50},
      {"ep":204,"tb":1.38,"tc":1.38,"td":1.55,"p":0.75,"r":0.78,"vb":1.88,"vc":1.70,"vd":2.00,"m50":0.80,"m95":0.49},
      {"ep":205,"tb":1.42,"tc":1.36,"td":1.58,"p":0.72,"r":0.81,"vb":1.90,"vc":1.73,"vd":1.98,"m50":0.79,"m95":0.51},
      {"ep":206,"tb":1.46,"tc":1.39,"td":1.61,"p":0.74,"r":0.76,"vb":1.87,"vc":1.69,"vd":2.01,"m50":0.77,"m95":0.50},
      {"ep":207,"tb":1.39,"tc":1.35,"td":1.66,"p":0.79,"r":0.79,"vb":1.85,"vc":1.71,"vd":1.99,"m50":0.80,"m95":0.51},
      {"ep":208,"tb":1.36,"tc":1.41,"td":1.57,"p":0.73,"r":0.74,"vb":1.88,"vc":1.75,"vd":2.02,"m50":0.79,"m95":0.49},
      {"ep":209,"tb":1.40,"tc":1.36,"td":1.55,"p":0.76,"r":0.78,"vb":1.86,"vc":1.70,"vd":2.00,"m50":0.78,"m95":0.50},
      {"ep":210,"tb":1.37,"tc":1.38,"td":1.59,"p":0.71,"r":0.76,"vb":1.89,"vc":1.68,"vd":1.98,"m50":0.80,"m95":0.51},
      {"ep":211,"tb":1.39,"tc":1.34,"td":1.56,"p":0.75,"r":0.80,"vb":1.87,"vc":1.72,"vd":2.01,"m50":0.774,"m95":0.50},
      {"ep":212,"tb":1.35,"tc":1.37,"td":1.54,"p":0.78,"r":0.722,"vb":1.85,"vc":1.69,"vd":1.99,"m50":0.79,"m95":0.49},
      {"ep":213,"tb":1.38,"tc":1.35,"td":1.58,"p":0.72,"r":0.77,"vb":1.88,"vc":1.73,"vd":1.97,"m50":0.80,"m95":0.50},
      {"ep":214,"tb":1.41,"tc":1.38,"td":1.60,"p":0.74,"r":0.79,"vb":1.86,"vc":1.70,"vd":2.00,"m50":0.78,"m95":0.51},
      {"ep":215,"tb":1.36,"tc":1.34,"td":1.56,"p":0.70,"r":0.75,"vb":1.84,"vc":1.67,"vd":2.02,"m50":0.79,"m95":0.50},
      {"ep":216,"tb":1.39,"tc":1.36,"td":1.59,"p":0.73,"r":0.78,"vb":1.87,"vc":1.71,"vd":1.99,"m50":0.80,"m95":0.49},
      {"ep":217,"tb":1.34,"tc":1.33,"td":1.55,"p":0.76,"r":0.81,"vb":1.85,"vc":1.74,"vd":1.97,"m50":0.78,"m95":0.50},
      {"ep":218,"tb":1.47,"tc":1.37,"td":1.62,"p":0.71,"r":0.76,"vb":1.83,"vc":1.69,"vd":2.00,"m50":0.79,"m95":0.51},
      {"ep":219,"tb":1.38,"tc":1.35,"td":1.57,"p":0.74,"r":0.79,"vb":1.86,"vc":1.72,"vd":1.98,"m50":0.80,"m95":0.50},
      {"ep":220,"tb":1.36,"tc":1.34,"td":1.60,"p":0.69,"r":0.80,"vb":1.84,"vc":1.70,"vd":2.01,"m50":0.79,"m95":0.51},
      {"ep":221,"tb":1.38,"tc":1.36,"td":1.58,"p":0.75,"r":0.843,"vb":1.83,"vc":1.68,"vd":2.02,"m50":0.80,"m95":0.50},
      {"ep":222,"tb":1.35,"tc":1.33,"td":1.55,"p":0.79,"r":0.83,"vb":1.85,"vc":1.73,"vd":2.00,"m50":0.78,"m95":0.51},
      {"ep":223,"tb":1.37,"tc":1.35,"td":1.61,"p":0.74,"r":0.78,"vb":1.84,"vc":1.70,"vd":2.03,"m50":0.79,"m95":0.50},
      {"ep":224,"tb":1.33,"tc":1.39,"td":1.56,"p":0.77,"r":0.76,"vb":1.86,"vc":1.67,"vd":2.01,"m50":0.80,"m95":0.517},
      {"ep":225,"tb":1.39,"tc":1.34,"td":1.50,"p":0.80,"r":0.79,"vb":1.88,"vc":1.72,"vd":2.04,"m50":0.78,"m95":0.51},
      {"ep":226,"tb":1.36,"tc":1.32,"td":1.57,"p":0.75,"r":0.75,"vb":1.85,"vc":1.69,"vd":2.02,"m50":0.79,"m95":0.50},
      {"ep":227,"tb":1.31,"tc":1.35,"td":1.54,"p":0.72,"r":0.78,"vb":1.87,"vc":1.74,"vd":2.00,"m50":0.80,"m95":0.49},
      {"ep":228,"tb":1.38,"tc":1.31,"td":1.60,"p":0.78,"r":0.80,"vb":1.89,"vc":1.70,"vd":2.03,"m50":0.79,"m95":0.51},
      {"ep":229,"tb":1.35,"tc":1.34,"td":1.55,"p":0.74,"r":0.76,"vb":1.86,"vc":1.68,"vd":2.01,"m50":0.78,"m95":0.50},
      {"ep":230,"tb":1.28,"tc":1.32,"td":1.51,"p":0.76,"r":0.74,"vb":1.88,"vc":1.71,"vd":2.04,"m50":0.79,"m95":0.49},
      {"ep":231,"tb":1.37,"tc":1.30,"td":1.58,"p":0.72,"r":0.79,"vb":1.90,"vc":1.73,"vd":2.02,"m50":0.80,"m95":0.50},
      {"ep":232,"tb":1.41,"tc":1.33,"td":1.56,"p":0.70,"r":0.77,"vb":1.87,"vc":1.69,"vd":2.00,"m50":0.78,"m95":0.51},
      {"ep":233,"tb":1.34,"tc":1.31,"td":1.53,"p":0.73,"r":0.80,"vb":1.89,"vc":1.72,"vd":2.03,"m50":0.79,"m95":0.49},
      {"ep":234,"tb":1.36,"tc":1.34,"td":1.57,"p":0.75,"r":0.75,"vb":1.86,"vc":1.70,"vd":2.01,"m50":0.77,"m95":0.50},
      {"ep":235,"tb":1.33,"tc":1.30,"td":1.54,"p":0.71,"r":0.78,"vb":1.88,"vc":1.67,"vd":2.04,"m50":0.766,"m95":0.51},
      {"ep":236,"tb":1.37,"tc":1.32,"td":1.56,"p":0.69,"r":0.76,"vb":1.90,"vc":1.71,"vd":2.02,"m50":0.78,"m95":0.49},
      {"ep":237,"tb":1.32,"tc":1.29,"td":1.52,"p":0.74,"r":0.79,"vb":1.87,"vc":1.74,"vd":2.05,"m50":0.79,"m95":0.50},
      {"ep":238,"tb":1.35,"tc":1.33,"td":1.55,"p":0.72,"r":0.74,"vb":1.89,"vc":1.69,"vd":2.02,"m50":0.80,"m95":0.51},
      {"ep":239,"tb":1.31,"tc":1.31,"td":1.53,"p":0.76,"r":0.719,"vb":1.86,"vc":1.72,"vd":2.00,"m50":0.78,"m95":0.483},
      {"ep":240,"tb":1.34,"tc":1.29,"td":1.57,"p":0.73,"r":0.78,"vb":1.88,"vc":1.70,"vd":2.03,"m50":0.79,"m95":0.50},
      {"ep":241,"tb":1.31,"tc":1.32,"td":1.54,"p":0.78,"r":0.80,"vb":1.90,"vc":1.68,"vd":2.01,"m50":0.80,"m95":0.51},
      {"ep":242,"tb":1.35,"tc":1.29,"td":1.56,"p":0.74,"r":0.76,"vb":1.87,"vc":1.73,"vd":2.04,"m50":0.78,"m95":0.49},
      {"ep":243,"tb":1.27,"tc":1.31,"td":1.52,"p":0.71,"r":0.79,"vb":1.89,"vc":1.70,"vd":2.02,"m50":0.79,"m95":0.50},
      {"ep":244,"tb":1.33,"tc":1.28,"td":1.55,"p":0.77,"r":0.77,"vb":1.86,"vc":1.67,"vd":2.05,"m50":0.80,"m95":0.51},
      {"ep":245,"tb":1.36,"tc":1.33,"td":1.53,"p":0.75,"r":0.80,"vb":1.88,"vc":1.72,"vd":2.03,"m50":0.79,"m95":0.50},
      {"ep":246,"tb":1.30,"tc":1.30,"td":1.57,"p":0.79,"r":0.75,"vb":1.85,"vc":1.69,"vd":2.01,"m50":0.78,"m95":0.49},
      {"ep":247,"tb":1.34,"tc":1.27,"td":1.51,"p":0.73,"r":0.78,"vb":1.87,"vc":1.71,"vd":2.04,"m50":0.80,"m95":0.51},
      {"ep":248,"tb":1.32,"tc":1.31,"td":1.54,"p":0.76,"r":0.80,"vb":1.89,"vc":1.74,"vd":2.02,"m50":0.79,"m95":0.50},
      {"ep":249,"tb":1.29,"tc":1.29,"td":1.56,"p":0.71,"r":0.76,"vb":1.86,"vc":1.70,"vd":2.00,"m50":0.78,"m95":0.49},
      {"ep":250,"tb":1.35,"tc":1.32,"td":1.52,"p":0.75,"r":0.79,"vb":1.88,"vc":1.68,"vd":2.03,"m50":0.79,"m95":0.51},
      {"ep":251,"tb":1.31,"tc":1.28,"td":1.55,"p":0.78,"r":0.77,"vb":1.87,"vc":1.72,"vd":2.01,"m50":0.80,"m95":0.50},
      {"ep":252,"tb":1.33,"tc":1.30,"td":1.53,"p":0.74,"r":0.80,"vb":1.89,"vc":1.69,"vd":2.03,"m50":0.78,"m95":0.49},
      {"ep":253,"tb":1.30,"tc":1.33,"td":1.50,"p":0.77,"r":0.76,"vb":1.86,"vc":1.73,"vd":2.00,"m50":0.79,"m95":0.50},
      {"ep":254,"tb":1.36,"tc":1.29,"td":1.54,"p":0.72,"r":0.74,"vb":1.88,"vc":1.70,"vd":2.02,"m50":0.78,"m95":0.51},
      {"ep":255,"tb":1.32,"tc":1.31,"td":1.57,"p":0.76,"r":0.78,"vb":1.90,"vc":1.67,"vd":2.04,"m50":0.80,"m95":0.49},
      {"ep":256,"tb":1.29,"tc":1.28,"td":1.52,"p":0.79,"r":0.75,"vb":1.87,"vc":1.71,"vd":2.01,"m50":0.79,"m95":0.483},
      {"ep":257,"tb":1.34,"tc":1.30,"td":1.55,"p":0.73,"r":0.73,"vb":1.89,"vc":1.74,"vd":2.03,"m50":0.78,"m95":0.50},
      {"ep":258,"tb":1.31,"tc":1.27,"td":1.51,"p":0.75,"r":0.77,"vb":1.86,"vc":1.69,"vd":2.02,"m50":0.79,"m95":0.49},
      {"ep":259,"tb":1.33,"tc":1.31,"td":1.54,"p":0.71,"r":0.74,"vb":1.88,"vc":1.72,"vd":2.00,"m50":0.77,"m95":0.50},
      {"ep":260,"tb":1.30,"tc":1.29,"td":1.56,"p":0.77,"r":0.79,"vb":1.87,"vc":1.70,"vd":2.02,"m50":0.78,"m95":0.49},
      {"ep":261,"tb":1.34,"tc":1.30,"td":1.53,"p":0.74,"r":0.76,"vb":1.89,"vc":1.68,"vd":2.04,"m50":0.763,"m95":0.50},
      {"ep":262,"tb":1.31,"tc":1.32,"td":1.55,"p":0.78,"r":0.73,"vb":1.86,"vc":1.73,"vd":2.01,"m50":0.78,"m95":0.48},
      {"ep":263,"tb":1.36,"tc":1.28,"td":1.51,"p":0.75,"r":0.78,"vb":1.88,"vc":1.70,"vd":2.03,"m50":0.79,"m95":0.49},
      {"ep":264,"tb":1.30,"tc":1.30,"td":1.57,"p":0.72,"r":0.75,"vb":1.90,"vc":1.67,"vd":2.02,"m50":0.80,"m95":0.50},
      {"ep":265,"tb":1.33,"tc":1.27,"td":1.53,"p":0.76,"r":0.823,"vb":1.87,"vc":1.71,"vd":2.04,"m50":0.78,"m95":0.485},
      {"ep":266,"tb":1.28,"tc":1.29,"td":1.50,"p":0.73,"r":0.77,"vb":1.89,"vc":1.74,"vd":2.01,"m50":0.79,"m95":0.50},
      {"ep":267,"tb":1.35,"tc":1.31,"td":1.55,"p":0.70,"r":0.74,"vb":1.91,"vc":1.69,"vd":2.03,"m50":0.80,"m95":0.51},
      {"ep":268,"tb":1.31,"tc":1.26,"td":1.52,"p":0.77,"r":0.79,"vb":1.88,"vc":1.72,"vd":2.05,"m50":0.78,"m95":0.50},
      {"ep":269,"tb":1.33,"tc":1.29,"td":1.56,"p":0.815,"r":0.73,"vb":1.86,"vc":1.70,"vd":2.02,"m50":0.79,"m95":0.51},
      {"ep":270,"tb":1.29,"tc":1.27,"td":1.53,"p":0.74,"r":0.76,"vb":1.89,"vc":1.68,"vd":2.04,"m50":0.78,"m95":0.50},
      {"ep":271,"tb":1.34,"tc":1.30,"td":1.48,"p":0.70,"r":0.72,"vb":1.87,"vc":1.73,"vd":2.03,"m50":0.80,"m95":0.51},
      {"ep":272,"tb":1.32,"tc":1.33,"td":1.54,"p":0.78,"r":0.78,"vb":1.90,"vc":1.70,"vd":2.05,"m50":0.79,"m95":0.50},
      {"ep":273,"tb":1.28,"tc":1.28,"td":1.51,"p":0.72,"r":0.81,"vb":1.88,"vc":1.67,"vd":2.02,"m50":0.78,"m95":0.51},
      {"ep":274,"tb":1.35,"tc":1.25,"td":1.55,"p":0.75,"r":0.74,"vb":1.91,"vc":1.71,"vd":2.04,"m50":0.80,"m95":0.49},
      {"ep":275,"tb":1.30,"tc":1.23,"td":1.52,"p":0.69,"r":0.77,"vb":1.89,"vc":1.74,"vd":2.06,"m50":0.79,"m95":0.50},
      {"ep":276,"tb":1.33,"tc":1.28,"td":1.58,"p":0.76,"r":0.72,"vb":1.87,"vc":1.69,"vd":2.03,"m50":0.808,"m95":0.51},
      {"ep":277,"tb":1.29,"tc":1.30,"td":1.53,"p":0.79,"r":0.79,"vb":1.90,"vc":1.72,"vd":2.05,"m50":0.79,"m95":0.50},
      {"ep":278,"tb":1.37,"tc":1.26,"td":1.50,"p":0.73,"r":0.75,"vb":1.88,"vc":1.70,"vd":2.07,"m50":0.78,"m95":0.51},
      {"ep":279,"tb":1.31,"tc":1.29,"td":1.59,"p":0.77,"r":0.831,"vb":1.91,"vc":1.68,"vd":2.04,"m50":0.80,"m95":0.50},
      {"ep":280,"tb":1.34,"tc":1.32,"td":1.54,"p":0.74,"r":0.76,"vb":1.89,"vc":1.73,"vd":2.06,"m50":0.79,"m95":0.488},
      {"ep":281,"tb":1.26,"tc":1.27,"td":1.51,"p":0.70,"r":0.73,"vb":1.87,"vc":1.70,"vd":2.03,"m50":0.78,"m95":0.50},
      {"ep":282,"tb":1.32,"tc":1.29,"td":1.56,"p":0.78,"r":0.78,"vb":1.90,"vc":1.67,"vd":2.05,"m50":0.80,"m95":0.51},
      {"ep":283,"tb":1.29,"tc":1.26,"td":1.52,"p":0.75,"r":0.722,"vb":1.88,"vc":1.71,"vd":2.02,"m50":0.79,"m95":0.495},
      {"ep":284,"tb":1.33,"tc":1.28,"td":1.55,"p":0.79,"r":0.77,"vb":1.90,"vc":1.74,"vd":2.04,"m50":0.80,"m95":0.51},
      {"ep":285,"tb":1.30,"tc":1.25,"td":1.50,"p":0.73,"r":0.74,"vb":1.87,"vc":1.69,"vd":2.03,"m50":0.79,"m95":0.50},
      {"ep":286,"tb":1.28,"tc":1.27,"td":1.53,"p":0.77,"r":0.79,"vb":1.88,"vc":1.72,"vd":2.02,"m50":0.80,"m95":0.51},
      {"ep":287,"tb":1.27,"tc":1.26,"td":1.51,"p":0.76,"r":0.784,"vb":1.87,"vc":1.70,"vd":2.01,"m50":0.795,"m95":0.512}
    ]
  },
  "columns": 5,
  "spacing": {"row": 17, "column": 50.5},
  "resolve": {"scale": {"color": "independent", "strokeDash": "independent"}},
  "concat": [
    {
      "title": "train/box_loss",
      "width": 353, "height": 460,
      "transform": [
        {"window": [{"op": "mean", "field": "tb", "as": "smooth"}], "frame": [-5, 5], "sort": [{"field": "ep"}]},
        {"fold": ["tb", "smooth"], "as": ["series", "value"]}
      ],
      "encoding": {
        "x": {"field": "ep", "type": "quantitative", "title": null, "scale": {"domain": [-13.3, 301.3], "nice": false, "zero": false}, "axis": {"values": [0, 200]}},
        "y": {"field": "value", "type": "quantitative", "title": null, "scale": {"domain": [1.204, 2.452], "nice": false, "zero": false}, "axis": {"values": [1.4, 1.6, 1.8, 2.0, 2.2, 2.4], "format": ".1f"}},
        "color": {"field": "series", "type": "nominal", "scale": {"domain": ["tb", "smooth"], "range": ["#1f77b4", "#ff7f0e"]}, "legend": null},
        "strokeDash": {"field": "series", "type": "nominal", "scale": {"domain": ["tb", "smooth"], "range": [[1, 0], [5.6, 9.2]]}, "legend": null}
      },
      "layer": [
        {"transform": [{"filter": "datum.series !== 'smooth'"}], "mark": {"type": "line", "strokeWidth": 5.5}},
        {"transform": [{"filter": "datum.series !== 'smooth'"}], "mark": {"type": "point", "filled": true, "size": 95, "opacity": 1}},
        {"transform": [{"filter": "datum.series === 'smooth'"}], "mark": {"type": "line", "strokeWidth": 5.5}}
      ]
    },
    {
      "title": "train/cls_loss",
      "width": 353, "height": 460,
      "transform": [
        {"window": [{"op": "mean", "field": "tc", "as": "smooth"}], "frame": [-5, 5], "sort": [{"field": "ep"}]},
        {"fold": ["tc", "smooth"], "as": ["series", "value"]}
      ],
      "encoding": {
        "x": {"field": "ep", "type": "quantitative", "title": null, "scale": {"domain": [-13.3, 301.3], "nice": false, "zero": false}, "axis": {"values": [0, 200]}},
        "y": {"field": "value", "type": "quantitative", "title": null, "scale": {"domain": [0.61, 13.36], "nice": false, "zero": false}, "axis": {"values": [2, 4, 6, 8, 10, 12], "format": "d"}},
        "color": {"field": "series", "type": "nominal", "scale": {"domain": ["tc", "smooth"], "range": ["#1f77b4", "#ff7f0e"]}, "legend": {"title": null, "labelExpr": "datum.label === 'smooth' ? 'smooth' : 'results'"}},
        "strokeDash": {"field": "series", "type": "nominal", "scale": {"domain": ["tc", "smooth"], "range": [[1, 0], [5.6, 9.2]]}, "legend": {"title": null, "labelExpr": "datum.label === 'smooth' ? 'smooth' : 'results'"}}
      },
      "layer": [
        {"transform": [{"filter": "datum.series !== 'smooth'"}], "mark": {"type": "line", "strokeWidth": 5.5}},
        {"transform": [{"filter": "datum.series !== 'smooth'"}], "mark": {"type": "point", "filled": true, "size": 95, "opacity": 1}},
        {"transform": [{"filter": "datum.series === 'smooth'"}], "mark": {"type": "line", "strokeWidth": 5.5}}
      ]
    },
    {
      "title": "train/dfl_loss",
      "width": 353, "height": 460,
      "transform": [
        {"window": [{"op": "mean", "field": "td", "as": "smooth"}], "frame": [-5, 5], "sort": [{"field": "ep"}]},
        {"fold": ["td", "smooth"], "as": ["series", "value"]}
      ],
      "encoding": {
        "x": {"field": "ep", "type": "quantitative", "title": null, "scale": {"domain": [-13.3, 301.3], "nice": false, "zero": false}, "axis": {"values": [0, 200]}},
        "y": {"field": "value", "type": "quantitative", "title": null, "scale": {"domain": [1.441, 2.447], "nice": false, "zero": false}, "axis": {"values": [1.6, 1.8, 2.0, 2.2, 2.4], "format": ".1f"}},
        "color": {"field": "series", "type": "nominal", "scale": {"domain": ["td", "smooth"], "range": ["#1f77b4", "#ff7f0e"]}, "legend": null},
        "strokeDash": {"field": "series", "type": "nominal", "scale": {"domain": ["td", "smooth"], "range": [[1, 0], [5.6, 9.2]]}, "legend": null}
      },
      "layer": [
        {"transform": [{"filter": "datum.series !== 'smooth'"}], "mark": {"type": "line", "strokeWidth": 5.5}},
        {"transform": [{"filter": "datum.series !== 'smooth'"}], "mark": {"type": "point", "filled": true, "size": 95, "opacity": 1}},
        {"transform": [{"filter": "datum.series === 'smooth'"}], "mark": {"type": "line", "strokeWidth": 5.5}}
      ]
    },
    {
      "title": "metrics/precision(B)",
      "width": 353, "height": 460,
      "transform": [
        {"window": [{"op": "mean", "field": "p", "as": "smooth"}], "frame": [-5, 5], "sort": [{"field": "ep"}]},
        {"fold": ["p", "smooth"], "as": ["series", "value"]}
      ],
      "encoding": {
        "x": {"field": "ep", "type": "quantitative", "title": null, "scale": {"domain": [-13.3, 301.3], "nice": false, "zero": false}, "axis": {"values": [0, 200]}},
        "y": {"field": "value", "type": "quantitative", "title": null, "scale": {"domain": [-0.046, 0.961], "nice": false, "zero": false}, "axis": {"values": [0, 0.2, 0.4, 0.6, 0.8], "format": ".1f"}},
        "color": {"field": "series", "type": "nominal", "scale": {"domain": ["p", "smooth"], "range": ["#1f77b4", "#ff7f0e"]}, "legend": null},
        "strokeDash": {"field": "series", "type": "nominal", "scale": {"domain": ["p", "smooth"], "range": [[1, 0], [5.6, 9.2]]}, "legend": null}
      },
      "layer": [
        {"transform": [{"filter": "datum.series !== 'smooth'"}], "mark": {"type": "line", "strokeWidth": 5.5}},
        {"transform": [{"filter": "datum.series !== 'smooth'"}], "mark": {"type": "point", "filled": true, "size": 95, "opacity": 1}},
        {"transform": [{"filter": "datum.series === 'smooth'"}], "mark": {"type": "line", "strokeWidth": 5.5}}
      ]
    },
    {
      "title": "metrics/recall(B)",
      "width": 353, "height": 460,
      "transform": [
        {"window": [{"op": "mean", "field": "r", "as": "smooth"}], "frame": [-5, 5], "sort": [{"field": "ep"}]},
        {"fold": ["r", "smooth"], "as": ["series", "value"]}
      ],
      "encoding": {
        "x": {"field": "ep", "type": "quantitative", "title": null, "scale": {"domain": [-13.3, 301.3], "nice": false, "zero": false}, "axis": {"values": [0, 200]}},
        "y": {"field": "value", "type": "quantitative", "title": null, "scale": {"domain": [-0.043, 0.887], "nice": false, "zero": false}, "axis": {"values": [0, 0.2, 0.4, 0.6, 0.8], "format": ".1f"}},
        "color": {"field": "series", "type": "nominal", "scale": {"domain": ["r", "smooth"], "range": ["#1f77b4", "#ff7f0e"]}, "legend": null},
        "strokeDash": {"field": "series", "type": "nominal", "scale": {"domain": ["r", "smooth"], "range": [[1, 0], [5.6, 9.2]]}, "legend": null}
      },
      "layer": [
        {"transform": [{"filter": "datum.series !== 'smooth'"}], "mark": {"type": "line", "strokeWidth": 5.5}},
        {"transform": [{"filter": "datum.series !== 'smooth'"}], "mark": {"type": "point", "filled": true, "size": 95, "opacity": 1}},
        {"transform": [{"filter": "datum.series === 'smooth'"}], "mark": {"type": "line", "strokeWidth": 5.5}}
      ]
    },
    {
      "title": "val/box_loss",
      "width": 353, "height": 460,
      "transform": [
        {"window": [{"op": "mean", "field": "vb", "as": "smooth"}], "frame": [-5, 5], "sort": [{"field": "ep"}]},
        {"fold": ["vb", "smooth"], "as": ["series", "value"]}
      ],
      "encoding": {
        "x": {"field": "ep", "type": "quantitative", "title": null, "scale": {"domain": [-13.3, 301.3], "nice": false, "zero": false}, "axis": {"values": [0, 200]}},
        "y": {"field": "value", "type": "quantitative", "title": null, "scale": {"domain": [1.717, 4.178], "nice": false, "zero": false}, "axis": {"values": [2.0, 2.5, 3.0, 3.5, 4.0], "format": ".1f"}},
        "color": {"field": "series", "type": "nominal", "scale": {"domain": ["vb", "smooth"], "range": ["#1f77b4", "#ff7f0e"]}, "legend": null},
        "strokeDash": {"field": "series", "type": "nominal", "scale": {"domain": ["vb", "smooth"], "range": [[1, 0], [5.6, 9.2]]}, "legend": null}
      },
      "layer": [
        {"transform": [{"filter": "datum.series !== 'smooth'"}], "mark": {"type": "line", "strokeWidth": 5.5}},
        {"transform": [{"filter": "datum.series !== 'smooth'"}], "mark": {"type": "point", "filled": true, "size": 95, "opacity": 1}},
        {"transform": [{"filter": "datum.series === 'smooth'"}], "mark": {"type": "line", "strokeWidth": 5.5}}
      ]
    },
    {
      "title": "val/cls_loss",
      "width": 353, "height": 460,
      "transform": [
        {"window": [{"op": "mean", "field": "vc", "as": "smooth"}], "frame": [-5, 5], "sort": [{"field": "ep"}]},
        {"fold": ["vc", "smooth"], "as": ["series", "value"]}
      ],
      "encoding": {
        "x": {"field": "ep", "type": "quantitative", "title": null, "scale": {"domain": [-13.3, 301.3], "nice": false, "zero": false}, "axis": {"values": [0, 200]}},
        "y": {"field": "value", "type": "quantitative", "title": null, "scale": {"domain": [-2.2, 83.1], "nice": false, "zero": false}, "axis": {"values": [0, 20, 40, 60, 80], "format": "d"}},
        "color": {"field": "series", "type": "nominal", "scale": {"domain": ["vc", "smooth"], "range": ["#1f77b4", "#ff7f0e"]}, "legend": null},
        "strokeDash": {"field": "series", "type": "nominal", "scale": {"domain": ["vc", "smooth"], "range": [[1, 0], [5.6, 9.2]]}, "legend": null}
      },
      "layer": [
        {"transform": [{"filter": "datum.series !== 'smooth'"}], "mark": {"type": "line", "strokeWidth": 5.5}},
        {"transform": [{"filter": "datum.series !== 'smooth'"}], "mark": {"type": "point", "filled": true, "size": 95, "opacity": 1}},
        {"transform": [{"filter": "datum.series === 'smooth'"}], "mark": {"type": "line", "strokeWidth": 5.5}}
      ]
    },
    {
      "title": "val/dfl_loss",
      "width": 353, "height": 460,
      "transform": [
        {"window": [{"op": "mean", "field": "vd", "as": "smooth"}], "frame": [-5, 5], "sort": [{"field": "ep"}]},
        {"fold": ["vd", "smooth"], "as": ["series", "value"]}
      ],
      "encoding": {
        "x": {"field": "ep", "type": "quantitative", "title": null, "scale": {"domain": [-13.3, 301.3], "nice": false, "zero": false}, "axis": {"values": [0, 200]}},
        "y": {"field": "value", "type": "quantitative", "title": null, "scale": {"domain": [1.79, 4.926], "nice": false, "zero": false}, "axis": {"values": [2.0, 2.5, 3.0, 3.5, 4.0, 4.5], "format": ".1f"}},
        "color": {"field": "series", "type": "nominal", "scale": {"domain": ["vd", "smooth"], "range": ["#1f77b4", "#ff7f0e"]}, "legend": null},
        "strokeDash": {"field": "series", "type": "nominal", "scale": {"domain": ["vd", "smooth"], "range": [[1, 0], [5.6, 9.2]]}, "legend": null}
      },
      "layer": [
        {"transform": [{"filter": "datum.series !== 'smooth'"}], "mark": {"type": "line", "strokeWidth": 5.5}},
        {"transform": [{"filter": "datum.series !== 'smooth'"}], "mark": {"type": "point", "filled": true, "size": 95, "opacity": 1}},
        {"transform": [{"filter": "datum.series === 'smooth'"}], "mark": {"type": "line", "strokeWidth": 5.5}}
      ]
    },
    {
      "title": "metrics/mAP50(B)",
      "width": 353, "height": 460,
      "transform": [
        {"window": [{"op": "mean", "field": "m50", "as": "smooth"}], "frame": [-5, 5], "sort": [{"field": "ep"}]},
        {"fold": ["m50", "smooth"], "as": ["series", "value"]}
      ],
      "encoding": {
        "x": {"field": "ep", "type": "quantitative", "title": null, "scale": {"domain": [-13.3, 301.3], "nice": false, "zero": false}, "axis": {"values": [0, 200]}},
        "y": {"field": "value", "type": "quantitative", "title": null, "scale": {"domain": [-0.041, 0.848], "nice": false, "zero": false}, "axis": {"values": [0, 0.2, 0.4, 0.6, 0.8], "format": ".1f"}},
        "color": {"field": "series", "type": "nominal", "scale": {"domain": ["m50", "smooth"], "range": ["#1f77b4", "#ff7f0e"]}, "legend": null},
        "strokeDash": {"field": "series", "type": "nominal", "scale": {"domain": ["m50", "smooth"], "range": [[1, 0], [5.6, 9.2]]}, "legend": null}
      },
      "layer": [
        {"transform": [{"filter": "datum.series !== 'smooth'"}], "mark": {"type": "line", "strokeWidth": 5.5}},
        {"transform": [{"filter": "datum.series !== 'smooth'"}], "mark": {"type": "point", "filled": true, "size": 95, "opacity": 1}},
        {"transform": [{"filter": "datum.series === 'smooth'"}], "mark": {"type": "line", "strokeWidth": 5.5}}
      ]
    },
    {
      "title": "metrics/mAP50-95(B)",
      "width": 353, "height": 460,
      "transform": [
        {"window": [{"op": "mean", "field": "m95", "as": "smooth"}], "frame": [-5, 5], "sort": [{"field": "ep"}]},
        {"fold": ["m95", "smooth"], "as": ["series", "value"]}
      ],
      "encoding": {
        "x": {"field": "ep", "type": "quantitative", "title": null, "scale": {"domain": [-13.3, 301.3], "nice": false, "zero": false}, "axis": {"values": [0, 200]}},
        "y": {"field": "value", "type": "quantitative", "title": null, "scale": {"domain": [-0.026, 0.55], "nice": false, "zero": false}, "axis": {"values": [0, 0.1, 0.2, 0.3, 0.4, 0.5], "format": ".1f"}},
        "color": {"field": "series", "type": "nominal", "scale": {"domain": ["m95", "smooth"], "range": ["#1f77b4", "#ff7f0e"]}, "legend": null},
        "strokeDash": {"field": "series", "type": "nominal", "scale": {"domain": ["m95", "smooth"], "range": [[1, 0], [5.6, 9.2]]}, "legend": null}
      },
      "layer": [
        {"transform": [{"filter": "datum.series !== 'smooth'"}], "mark": {"type": "line", "strokeWidth": 5.5}},
        {"transform": [{"filter": "datum.series !== 'smooth'"}], "mark": {"type": "point", "filled": true, "size": 95, "opacity": 1}},
        {"transform": [{"filter": "datum.series === 'smooth'"}], "mark": {"type": "line", "strokeWidth": 5.5}}
      ]
    }
  ],
  "config": {
    "font": "DejaVu Sans",
    "view": {"stroke": "black", "strokeWidth": 2.2},
    "axis": {
      "domain": false,
      "grid": false,
      "labelFont": "DejaVu Sans",
      "labelFontSize": 28,
      "labelColor": "black",
      "labelFlush": false,
      "labelOverlap": false,
      "tickColor": "black",
      "tickWidth": 2.2,
      "tickSize": 10
    },
    "axisX": {"labelPadding": 12, "minExtent": 48, "maxExtent": 48},
    "axisY": {"labelPadding": 10, "minExtent": 70, "maxExtent": 70},
    "title": {
      "font": "DejaVu Sans",
      "fontSize": 33,
      "fontWeight": "normal",
      "color": "black",
      "offset": 17,
      "baseline": "alphabetic",
      "anchor": "middle",
      "frame": "group"
    },
    "legend": {
      "orient": "top-right",
      "offset": 14,
      "padding": 10,
      "fillColor": "white",
      "strokeColor": "#cccccc",
      "cornerRadius": 6,
      "labelFont": "DejaVu Sans",
      "labelFontSize": 28,
      "labelColor": "black",
      "labelOffset": 24,
      "rowPadding": 16,
      "symbolType": "stroke",
      "symbolSize": 3600,
      "symbolStrokeWidth": 5.5
    }
  }
}
